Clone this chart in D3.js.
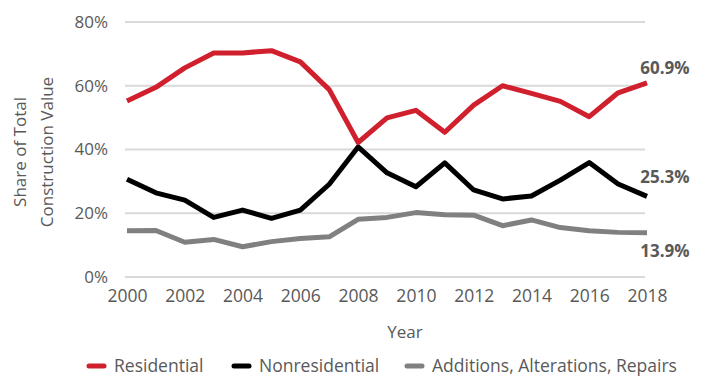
<!DOCTYPE html>
<html lang="en">
  <head>
    <script src="https://d3js.org/d3.v7.min.js"></script>
    <style>
      body { margin: 0; background: #fff; }
      text { font-family: "Open Sans", sans-serif; fill: #595959; }
    </style>
  </head>
  <body>
    <svg width="713" height="378"></svg>
    <script>
      // data
      var years = d3.range(2000, 2019);
      var residential = [55.2, 59.5, 65.6, 70.3, 70.3, 71.0, 67.5, 58.8, 42.2, 49.9, 52.3, 45.4, 53.9, 60.0, 57.6, 55.1, 50.3, 57.8, 60.9];
      var nonresidential = [30.7, 26.4, 24.1, 18.7, 21.0, 18.4, 21.0, 29.1, 40.8, 32.7, 28.3, 35.8, 27.3, 24.5, 25.4, 30.4, 35.9, 29.2, 25.3];
      var additions = [14.5, 14.6, 10.9, 11.8, 9.5, 11.1, 12.1, 12.6, 18.1, 18.7, 20.2, 19.5, 19.4, 16.1, 17.9, 15.5, 14.5, 14.0, 13.9];
      var yTicks = [0, 20, 40, 60, 80];
      var xTicks = d3.range(2000, 2019, 2);

      var series = [
        { name: "Residential", values: residential, color: "#d0202e" },
        { name: "Nonresidential", values: nonresidential, color: "#000000" },
        { name: "Additions, Alterations, Repairs", values: additions, color: "#808080" }
      ];

      var svg = d3.select("svg");

      var x = d3.scaleLinear().domain([2000, 2018]).range([127, 647]);
      var y = d3.scaleLinear().domain([0, 80]).range([277, 22]);

      // gridlines
      svg.append("g")
        .selectAll("line")
        .data(yTicks)
        .enter()
        .append("line")
        .attr("x1", 125)
        .attr("x2", 645)
        .attr("y1", function (d) { return y(d); })
        .attr("y2", function (d) { return y(d); })
        .style("stroke", "#d9d9d9")
        .style("stroke-width", 2);

      // y axis labels
      var yAxis = svg.append("g")
        .attr("transform", "translate(108,0)")
        .call(d3.axisLeft(y).tickValues(yTicks).tickSize(0).tickFormat(function (d) { return d + "%"; }));
      yAxis.select(".domain").remove();
      yAxis.selectAll("text")
        .attr("x", 0)
        .style("font-size", "17px")
        .style("font-family", "Open Sans, sans-serif")
        .attr("fill", "#595959");

      // x axis labels
      var xAxis = svg.append("g")
        .attr("transform", "translate(0,290)")
        .call(d3.axisBottom(x).tickValues(xTicks).tickSize(0).tickFormat(d3.format("d")));
      xAxis.select(".domain").remove();
      xAxis.selectAll("text")
        .attr("y", 0)
        .attr("dy", "0.71em")
        .style("font-size", "17.5px")
        .style("font-family", "Open Sans, sans-serif")
        .attr("fill", "#595959");

      // axis titles
      svg.append("text")
        .attr("x", 405)
        .attr("y", 338)
        .attr("text-anchor", "middle")
        .style("font-size", "17px")
        .text("Year");

      var yTitle = svg.append("text")
        .attr("text-anchor", "middle")
        .attr("transform", "translate(0,152)rotate(-90)")
        .style("font-size", "17px");
      yTitle.append("tspan").attr("x", 0).attr("y", 26).text("Share of Total");
      yTitle.append("tspan").attr("x", 0).attr("y", 53).text("Construction Value");

      // lines
      var line = d3.line()
        .x(function (d, i) { return x(years[i]); })
        .y(function (d) { return y(d); });

      svg.append("g")
        .selectAll("path")
        .data(series.slice().reverse())
        .enter()
        .append("path")
        .attr("d", function (d) { return line(d.values); })
        .style("fill", "none")
        .style("stroke", function (d) { return d.color; })
        .style("stroke-width", 5)
        .style("stroke-linejoin", "round");

      // end labels
      var endLabelY = [68, 177, 251];
      svg.append("g")
        .selectAll("text")
        .data(series)
        .enter()
        .append("text")
        .attr("x", 665)
        .attr("y", function (d, i) { return endLabelY[i]; })
        .attr("dy", "0.35em")
        .attr("text-anchor", "middle")
        .style("font-size", "17px")
        .style("font-weight", "bold")
        .text(function (d) { return d.values[d.values.length - 1].toFixed(1) + "%"; });

      // legend
      var legendX = [87, 232, 405];
      var legend = svg.append("g")
        .selectAll("g")
        .data(series)
        .enter()
        .append("g")
        .attr("transform", function (d, i) { return "translate(" + legendX[i] + ",366)"; });
      legend.append("line")
        .attr("x1", 2).attr("x2", 17)
        .style("stroke", function (d) { return d.color; })
        .style("stroke-width", 5)
        .style("stroke-linecap", "round");
      legend.append("text")
        .attr("x", 27)
        .attr("dy", "0.35em")
        .style("font-size", "17.5px")
        .text(function (d) { return d.name; });
    </script>
  </body>
</html>
